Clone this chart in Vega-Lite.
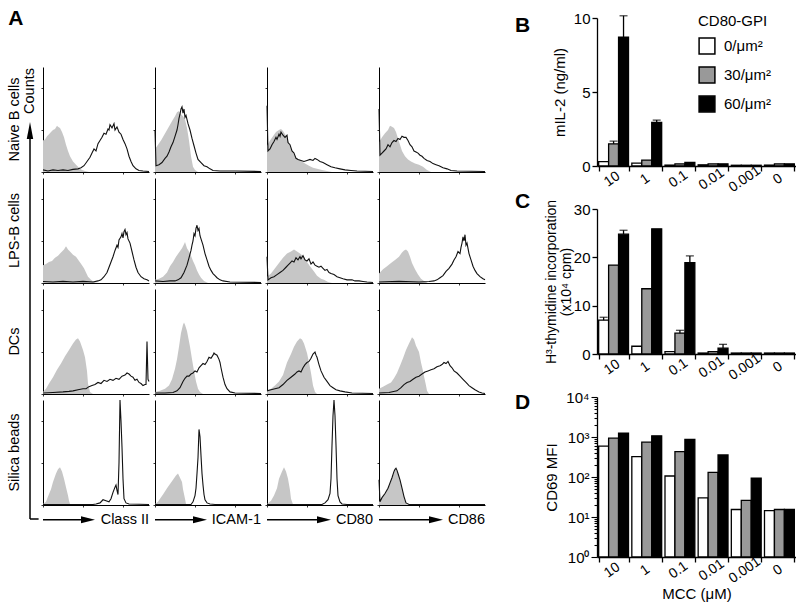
{
"$schema": "https://vega.github.io/schema/vega-lite/v6.json",
"background": "white",
"padding": {"left": 5, "top": 7, "right": 0, "bottom": 0},
"config": {
  "font": "Liberation Sans",
  "view": {"stroke": null},
  "axis": {"grid": false, "domainColor": "#000", "tickColor": "#000", "labelColor": "#000", "titleColor": "#000", "titleFontWeight": "normal", "labelFont": "Liberation Sans", "titleFont": "Liberation Sans"},
  "legend": {"labelFont": "Liberation Sans", "titleFont": "Liberation Sans", "labelColor": "#000", "titleColor": "#000"},
  "title": {"font": "Liberation Sans", "color": "#000"}
},
"datasets": {
  "rows": [{"r": "Naive B cells"}, {"r": "LPS-B cells"}, {"r": "DCs"}, {"r": "Silica beads"}],
  "cols": [{"c": "Class II"}, {"c": "ICAM-1"}, {"c": "CD80"}, {"c": "CD86"}],
  "il2": [
    {"d":"10","g":"0/μm²","v":0.3},{"d":"10","g":"30/μm²","v":1.5,"hi":1.68},{"d":"10","g":"60/μm²","v":8.7,"hi":10.15},
    {"d":"1","g":"0/μm²","v":0.2},{"d":"1","g":"30/μm²","v":0.4},{"d":"1","g":"60/μm²","v":2.95,"hi":3.1},
    {"d":"0.1","g":"0/μm²","v":0.06},{"d":"0.1","g":"30/μm²","v":0.15},{"d":"0.1","g":"60/μm²","v":0.25},
    {"d":"0.01","g":"0/μm²","v":0.08},{"d":"0.01","g":"30/μm²","v":0.15},{"d":"0.01","g":"60/μm²","v":0.15},
    {"d":"0.001","g":"0/μm²","v":0.05},{"d":"0.001","g":"30/μm²","v":0.05},{"d":"0.001","g":"60/μm²","v":0.05},
    {"d":"0","g":"0/μm²","v":0.06},{"d":"0","g":"30/μm²","v":0.15},{"d":"0","g":"60/μm²","v":0.15}
  ],
  "thy": [
    {"d":"10","g":"0/μm²","v":7.0,"hi":7.6},{"d":"10","g":"30/μm²","v":18.4},{"d":"10","g":"60/μm²","v":24.8,"hi":25.6},
    {"d":"1","g":"0/μm²","v":1.6},{"d":"1","g":"30/μm²","v":13.5},{"d":"1","g":"60/μm²","v":25.9},
    {"d":"0.1","g":"0/μm²","v":0.5},{"d":"0.1","g":"30/μm²","v":4.3,"hi":4.9},{"d":"0.1","g":"60/μm²","v":18.9,"hi":20.3},
    {"d":"0.01","g":"0/μm²","v":0.2},{"d":"0.01","g":"30/μm²","v":0.5},{"d":"0.01","g":"60/μm²","v":1.2,"hi":2.0},
    {"d":"0.001","g":"0/μm²","v":0.2},{"d":"0.001","g":"30/μm²","v":0.2},{"d":"0.001","g":"60/μm²","v":0.2},
    {"d":"0","g":"0/μm²","v":0.2},{"d":"0","g":"30/μm²","v":0.2},{"d":"0","g":"60/μm²","v":0.2}
  ],
  "cd69": [
    {"d":"10","g":"0/μm²","v":589},{"d":"10","g":"30/μm²","v":933},{"d":"10","g":"60/μm²","v":1250},
    {"d":"1","g":"0/μm²","v":324},{"d":"1","g":"30/μm²","v":741},{"d":"1","g":"60/μm²","v":1070},
    {"d":"0.1","g":"0/μm²","v":106},{"d":"0.1","g":"30/μm²","v":433},{"d":"0.1","g":"60/μm²","v":865},
    {"d":"0.01","g":"0/μm²","v":30},{"d":"0.01","g":"30/μm²","v":131},{"d":"0.01","g":"60/μm²","v":356},
    {"d":"0.001","g":"0/μm²","v":15.4},{"d":"0.001","g":"30/μm²","v":26},{"d":"0.001","g":"60/μm²","v":93},
    {"d":"0","g":"0/μm²","v":14.5},{"d":"0","g":"30/μm²","v":15.4},{"d":"0","g":"60/μm²","v":15.4}
  ],
  "hist": [
{"r":1,"c":1,"s":"g","x":0,"y":30},{"r":1,"c":1,"s":"g","x":2,"y":31},{"r":1,"c":1,"s":"g","x":4,"y":34},{"r":1,"c":1,"s":"g","x":6,"y":36},{"r":1,"c":1,"s":"g","x":8,"y":38},{"r":1,"c":1,"s":"g","x":10,"y":40},{"r":1,"c":1,"s":"g","x":12,"y":41},{"r":1,"c":1,"s":"g","x":14,"y":44},{"r":1,"c":1,"s":"g","x":15,"y":43},{"r":1,"c":1,"s":"g","x":17,"y":42},{"r":1,"c":1,"s":"g","x":19,"y":38},{"r":1,"c":1,"s":"g","x":21,"y":33},{"r":1,"c":1,"s":"g","x":23,"y":26},{"r":1,"c":1,"s":"g","x":25,"y":20},{"r":1,"c":1,"s":"g","x":27,"y":15},{"r":1,"c":1,"s":"g","x":30,"y":10},{"r":1,"c":1,"s":"g","x":33,"y":7},{"r":1,"c":1,"s":"g","x":36,"y":4},{"r":1,"c":1,"s":"g","x":39,"y":2},{"r":1,"c":1,"s":"g","x":42,"y":1},{"r":1,"c":1,"s":"g","x":46,"y":0},
{"r":1,"c":1,"s":"k","x":0,"y":2},{"r":1,"c":1,"s":"k","x":5,"y":1},{"r":1,"c":1,"s":"k","x":10,"y":2},{"r":1,"c":1,"s":"k","x":15,"y":1.5},{"r":1,"c":1,"s":"k","x":20,"y":2},{"r":1,"c":1,"s":"k","x":25,"y":1.5},{"r":1,"c":1,"s":"k","x":30,"y":2.5},{"r":1,"c":1,"s":"k","x":35,"y":3},{"r":1,"c":1,"s":"k","x":38,"y":4},{"r":1,"c":1,"s":"k","x":41,"y":6},{"r":1,"c":1,"s":"k","x":44,"y":10},{"r":1,"c":1,"s":"k","x":47,"y":14},{"r":1,"c":1,"s":"k","x":49,"y":18},{"r":1,"c":1,"s":"k","x":51,"y":22},{"r":1,"c":1,"s":"k","x":53,"y":20},{"r":1,"c":1,"s":"k","x":55,"y":27},{"r":1,"c":1,"s":"k","x":57,"y":30},{"r":1,"c":1,"s":"k","x":59,"y":33},{"r":1,"c":1,"s":"k","x":61,"y":37},{"r":1,"c":1,"s":"k","x":63,"y":36},{"r":1,"c":1,"s":"k","x":65,"y":41},{"r":1,"c":1,"s":"k","x":66,"y":40},{"r":1,"c":1,"s":"k","x":67,"y":45},{"r":1,"c":1,"s":"k","x":69,"y":42},{"r":1,"c":1,"s":"k","x":71,"y":46},{"r":1,"c":1,"s":"k","x":72,"y":40},{"r":1,"c":1,"s":"k","x":74,"y":43},{"r":1,"c":1,"s":"k","x":76,"y":38},{"r":1,"c":1,"s":"k","x":78,"y":36},{"r":1,"c":1,"s":"k","x":80,"y":31},{"r":1,"c":1,"s":"k","x":82,"y":27},{"r":1,"c":1,"s":"k","x":84,"y":22},{"r":1,"c":1,"s":"k","x":86,"y":15},{"r":1,"c":1,"s":"k","x":88,"y":10},{"r":1,"c":1,"s":"k","x":90,"y":6},{"r":1,"c":1,"s":"k","x":93,"y":3},{"r":1,"c":1,"s":"k","x":96,"y":1.5},{"r":1,"c":1,"s":"k","x":100,"y":1},{"r":1,"c":1,"s":"k","x":106,"y":0.5},
{"r":1,"c":2,"s":"g","x":0,"y":22},{"r":1,"c":2,"s":"g","x":3,"y":26},{"r":1,"c":2,"s":"g","x":6,"y":30},{"r":1,"c":2,"s":"g","x":9,"y":35},{"r":1,"c":2,"s":"g","x":12,"y":40},{"r":1,"c":2,"s":"g","x":15,"y":45},{"r":1,"c":2,"s":"g","x":18,"y":50},{"r":1,"c":2,"s":"g","x":20,"y":53},{"r":1,"c":2,"s":"g","x":22,"y":57},{"r":1,"c":2,"s":"g","x":24,"y":58},{"r":1,"c":2,"s":"g","x":26,"y":55},{"r":1,"c":2,"s":"g","x":28,"y":53},{"r":1,"c":2,"s":"g","x":30,"y":50},{"r":1,"c":2,"s":"g","x":32,"y":42},{"r":1,"c":2,"s":"g","x":34,"y":30},{"r":1,"c":2,"s":"g","x":36,"y":15},{"r":1,"c":2,"s":"g","x":38,"y":5},{"r":1,"c":2,"s":"g","x":40,"y":2},{"r":1,"c":2,"s":"g","x":43,"y":0},
{"r":1,"c":2,"s":"k","x":0,"y":40},{"r":1,"c":2,"s":"k","x":1,"y":6},{"r":1,"c":2,"s":"k","x":4,"y":7},{"r":1,"c":2,"s":"k","x":7,"y":9},{"r":1,"c":2,"s":"k","x":10,"y":13},{"r":1,"c":2,"s":"k","x":12,"y":15},{"r":1,"c":2,"s":"k","x":14,"y":19},{"r":1,"c":2,"s":"k","x":16,"y":24},{"r":1,"c":2,"s":"k","x":18,"y":28},{"r":1,"c":2,"s":"k","x":20,"y":34},{"r":1,"c":2,"s":"k","x":22,"y":40},{"r":1,"c":2,"s":"k","x":23,"y":45},{"r":1,"c":2,"s":"k","x":24,"y":51},{"r":1,"c":2,"s":"k","x":25,"y":55},{"r":1,"c":2,"s":"k","x":26,"y":60},{"r":1,"c":2,"s":"k","x":27,"y":62},{"r":1,"c":2,"s":"k","x":28,"y":56},{"r":1,"c":2,"s":"k","x":29,"y":60},{"r":1,"c":2,"s":"k","x":30,"y":52},{"r":1,"c":2,"s":"k","x":31,"y":54},{"r":1,"c":2,"s":"k","x":33,"y":46},{"r":1,"c":2,"s":"k","x":35,"y":40},{"r":1,"c":2,"s":"k","x":37,"y":32},{"r":1,"c":2,"s":"k","x":39,"y":25},{"r":1,"c":2,"s":"k","x":41,"y":18},{"r":1,"c":2,"s":"k","x":43,"y":12},{"r":1,"c":2,"s":"k","x":46,"y":9},{"r":1,"c":2,"s":"k","x":49,"y":6},{"r":1,"c":2,"s":"k","x":52,"y":5},{"r":1,"c":2,"s":"k","x":55,"y":3},{"r":1,"c":2,"s":"k","x":58,"y":1.5},{"r":1,"c":2,"s":"k","x":65,"y":1},{"r":1,"c":2,"s":"k","x":80,"y":1},{"r":1,"c":2,"s":"k","x":106,"y":0.5},
{"r":1,"c":3,"s":"g","x":0,"y":25},{"r":1,"c":3,"s":"g","x":3,"y":30},{"r":1,"c":3,"s":"g","x":6,"y":34},{"r":1,"c":3,"s":"g","x":9,"y":38},{"r":1,"c":3,"s":"g","x":12,"y":40},{"r":1,"c":3,"s":"g","x":14,"y":41},{"r":1,"c":3,"s":"g","x":16,"y":39},{"r":1,"c":3,"s":"g","x":18,"y":36},{"r":1,"c":3,"s":"g","x":20,"y":33},{"r":1,"c":3,"s":"g","x":23,"y":25},{"r":1,"c":3,"s":"g","x":26,"y":18},{"r":1,"c":3,"s":"g","x":29,"y":14},{"r":1,"c":3,"s":"g","x":32,"y":12},{"r":1,"c":3,"s":"g","x":35,"y":10},{"r":1,"c":3,"s":"g","x":38,"y":8},{"r":1,"c":3,"s":"g","x":42,"y":6},{"r":1,"c":3,"s":"g","x":46,"y":4},{"r":1,"c":3,"s":"g","x":50,"y":3},{"r":1,"c":3,"s":"g","x":55,"y":2},{"r":1,"c":3,"s":"g","x":60,"y":1},{"r":1,"c":3,"s":"g","x":65,"y":0},
{"r":1,"c":3,"s":"k","x":0,"y":63},{"r":1,"c":3,"s":"k","x":1,"y":20},{"r":1,"c":3,"s":"k","x":3,"y":22},{"r":1,"c":3,"s":"k","x":5,"y":26},{"r":1,"c":3,"s":"k","x":7,"y":29},{"r":1,"c":3,"s":"k","x":9,"y":33},{"r":1,"c":3,"s":"k","x":10,"y":31},{"r":1,"c":3,"s":"k","x":12,"y":36},{"r":1,"c":3,"s":"k","x":13,"y":34},{"r":1,"c":3,"s":"k","x":14,"y":38},{"r":1,"c":3,"s":"k","x":16,"y":35},{"r":1,"c":3,"s":"k","x":18,"y":33},{"r":1,"c":3,"s":"k","x":20,"y":35},{"r":1,"c":3,"s":"k","x":21,"y":28},{"r":1,"c":3,"s":"k","x":23,"y":26},{"r":1,"c":3,"s":"k","x":25,"y":20},{"r":1,"c":3,"s":"k","x":27,"y":18},{"r":1,"c":3,"s":"k","x":29,"y":13},{"r":1,"c":3,"s":"k","x":31,"y":12},{"r":1,"c":3,"s":"k","x":34,"y":11},{"r":1,"c":3,"s":"k","x":37,"y":10},{"r":1,"c":3,"s":"k","x":40,"y":11},{"r":1,"c":3,"s":"k","x":43,"y":12},{"r":1,"c":3,"s":"k","x":46,"y":11},{"r":1,"c":3,"s":"k","x":48,"y":13},{"r":1,"c":3,"s":"k","x":50,"y":12},{"r":1,"c":3,"s":"k","x":53,"y":10},{"r":1,"c":3,"s":"k","x":56,"y":9},{"r":1,"c":3,"s":"k","x":60,"y":7},{"r":1,"c":3,"s":"k","x":64,"y":5},{"r":1,"c":3,"s":"k","x":68,"y":4},{"r":1,"c":3,"s":"k","x":73,"y":3},{"r":1,"c":3,"s":"k","x":78,"y":2},{"r":1,"c":3,"s":"k","x":84,"y":1.5},{"r":1,"c":3,"s":"k","x":90,"y":1},{"r":1,"c":3,"s":"k","x":106,"y":0.5},
{"r":1,"c":4,"s":"g","x":0,"y":28},{"r":1,"c":4,"s":"g","x":3,"y":33},{"r":1,"c":4,"s":"g","x":6,"y":37},{"r":1,"c":4,"s":"g","x":9,"y":40},{"r":1,"c":4,"s":"g","x":11,"y":44},{"r":1,"c":4,"s":"g","x":13,"y":43},{"r":1,"c":4,"s":"g","x":15,"y":42},{"r":1,"c":4,"s":"g","x":17,"y":38},{"r":1,"c":4,"s":"g","x":19,"y":32},{"r":1,"c":4,"s":"g","x":21,"y":26},{"r":1,"c":4,"s":"g","x":23,"y":20},{"r":1,"c":4,"s":"g","x":26,"y":15},{"r":1,"c":4,"s":"g","x":29,"y":12},{"r":1,"c":4,"s":"g","x":32,"y":10},{"r":1,"c":4,"s":"g","x":36,"y":8},{"r":1,"c":4,"s":"g","x":40,"y":7},{"r":1,"c":4,"s":"g","x":44,"y":5},{"r":1,"c":4,"s":"g","x":48,"y":2},{"r":1,"c":4,"s":"g","x":52,"y":0},
{"r":1,"c":4,"s":"k","x":0,"y":60},{"r":1,"c":4,"s":"k","x":1,"y":16},{"r":1,"c":4,"s":"k","x":3,"y":18},{"r":1,"c":4,"s":"k","x":5,"y":20},{"r":1,"c":4,"s":"k","x":7,"y":22},{"r":1,"c":4,"s":"k","x":9,"y":26},{"r":1,"c":4,"s":"k","x":11,"y":24},{"r":1,"c":4,"s":"k","x":13,"y":28},{"r":1,"c":4,"s":"k","x":15,"y":30},{"r":1,"c":4,"s":"k","x":17,"y":29},{"r":1,"c":4,"s":"k","x":19,"y":32},{"r":1,"c":4,"s":"k","x":21,"y":31},{"r":1,"c":4,"s":"k","x":23,"y":34},{"r":1,"c":4,"s":"k","x":25,"y":33},{"r":1,"c":4,"s":"k","x":27,"y":33},{"r":1,"c":4,"s":"k","x":29,"y":30},{"r":1,"c":4,"s":"k","x":31,"y":26},{"r":1,"c":4,"s":"k","x":33,"y":24},{"r":1,"c":4,"s":"k","x":35,"y":20},{"r":1,"c":4,"s":"k","x":37,"y":19},{"r":1,"c":4,"s":"k","x":39,"y":18},{"r":1,"c":4,"s":"k","x":41,"y":16},{"r":1,"c":4,"s":"k","x":43,"y":15},{"r":1,"c":4,"s":"k","x":45,"y":13},{"r":1,"c":4,"s":"k","x":48,"y":11},{"r":1,"c":4,"s":"k","x":51,"y":10},{"r":1,"c":4,"s":"k","x":54,"y":8},{"r":1,"c":4,"s":"k","x":57,"y":7},{"r":1,"c":4,"s":"k","x":60,"y":6},{"r":1,"c":4,"s":"k","x":64,"y":4},{"r":1,"c":4,"s":"k","x":68,"y":3},{"r":1,"c":4,"s":"k","x":72,"y":1.5},{"r":1,"c":4,"s":"k","x":78,"y":1},{"r":1,"c":4,"s":"k","x":106,"y":0.5},
{"r":2,"c":1,"s":"g","x":0,"y":17},{"r":2,"c":1,"s":"g","x":3,"y":18},{"r":2,"c":1,"s":"g","x":6,"y":20},{"r":2,"c":1,"s":"g","x":9,"y":21},{"r":2,"c":1,"s":"g","x":12,"y":24},{"r":2,"c":1,"s":"g","x":15,"y":26},{"r":2,"c":1,"s":"g","x":18,"y":29},{"r":2,"c":1,"s":"g","x":21,"y":32},{"r":2,"c":1,"s":"g","x":23,"y":35},{"r":2,"c":1,"s":"g","x":25,"y":32},{"r":2,"c":1,"s":"g","x":27,"y":30},{"r":2,"c":1,"s":"g","x":30,"y":27},{"r":2,"c":1,"s":"g","x":33,"y":25},{"r":2,"c":1,"s":"g","x":36,"y":21},{"r":2,"c":1,"s":"g","x":39,"y":17},{"r":2,"c":1,"s":"g","x":41,"y":14},{"r":2,"c":1,"s":"g","x":43,"y":10},{"r":2,"c":1,"s":"g","x":45,"y":6},{"r":2,"c":1,"s":"g","x":48,"y":3},{"r":2,"c":1,"s":"g","x":51,"y":1},{"r":2,"c":1,"s":"g","x":55,"y":0},
{"r":2,"c":1,"s":"k","x":0,"y":1.5},{"r":2,"c":1,"s":"k","x":10,"y":1},{"r":2,"c":1,"s":"k","x":20,"y":1.5},{"r":2,"c":1,"s":"k","x":30,"y":1},{"r":2,"c":1,"s":"k","x":40,"y":1.5},{"r":2,"c":1,"s":"k","x":50,"y":1},{"r":2,"c":1,"s":"k","x":55,"y":2},{"r":2,"c":1,"s":"k","x":58,"y":3},{"r":2,"c":1,"s":"k","x":61,"y":6},{"r":2,"c":1,"s":"k","x":64,"y":10},{"r":2,"c":1,"s":"k","x":66,"y":15},{"r":2,"c":1,"s":"k","x":68,"y":20},{"r":2,"c":1,"s":"k","x":70,"y":25},{"r":2,"c":1,"s":"k","x":72,"y":31},{"r":2,"c":1,"s":"k","x":74,"y":36},{"r":2,"c":1,"s":"k","x":75,"y":34},{"r":2,"c":1,"s":"k","x":76,"y":41},{"r":2,"c":1,"s":"k","x":78,"y":44},{"r":2,"c":1,"s":"k","x":79,"y":47},{"r":2,"c":1,"s":"k","x":80,"y":43},{"r":2,"c":1,"s":"k","x":81,"y":49},{"r":2,"c":1,"s":"k","x":82,"y":51},{"r":2,"c":1,"s":"k","x":83,"y":46},{"r":2,"c":1,"s":"k","x":84,"y":48},{"r":2,"c":1,"s":"k","x":85,"y":42},{"r":2,"c":1,"s":"k","x":87,"y":38},{"r":2,"c":1,"s":"k","x":89,"y":30},{"r":2,"c":1,"s":"k","x":91,"y":22},{"r":2,"c":1,"s":"k","x":93,"y":15},{"r":2,"c":1,"s":"k","x":95,"y":10},{"r":2,"c":1,"s":"k","x":98,"y":6},{"r":2,"c":1,"s":"k","x":101,"y":4},{"r":2,"c":1,"s":"k","x":104,"y":3},{"r":2,"c":1,"s":"k","x":106,"y":2},
{"r":2,"c":2,"s":"g","x":0,"y":3},{"r":2,"c":2,"s":"g","x":4,"y":4},{"r":2,"c":2,"s":"g","x":8,"y":6},{"r":2,"c":2,"s":"g","x":12,"y":10},{"r":2,"c":2,"s":"g","x":15,"y":16},{"r":2,"c":2,"s":"g","x":18,"y":20},{"r":2,"c":2,"s":"g","x":21,"y":25},{"r":2,"c":2,"s":"g","x":24,"y":29},{"r":2,"c":2,"s":"g","x":27,"y":33},{"r":2,"c":2,"s":"g","x":29,"y":37},{"r":2,"c":2,"s":"g","x":30,"y":39},{"r":2,"c":2,"s":"g","x":32,"y":33},{"r":2,"c":2,"s":"g","x":34,"y":30},{"r":2,"c":2,"s":"g","x":36,"y":26},{"r":2,"c":2,"s":"g","x":38,"y":21},{"r":2,"c":2,"s":"g","x":40,"y":17},{"r":2,"c":2,"s":"g","x":42,"y":12},{"r":2,"c":2,"s":"g","x":44,"y":8},{"r":2,"c":2,"s":"g","x":46,"y":5},{"r":2,"c":2,"s":"g","x":49,"y":2},{"r":2,"c":2,"s":"g","x":53,"y":0},
{"r":2,"c":2,"s":"k","x":0,"y":2},{"r":2,"c":2,"s":"k","x":8,"y":1.5},{"r":2,"c":2,"s":"k","x":15,"y":2},{"r":2,"c":2,"s":"k","x":20,"y":2},{"r":2,"c":2,"s":"k","x":23,"y":3},{"r":2,"c":2,"s":"k","x":26,"y":5},{"r":2,"c":2,"s":"k","x":29,"y":10},{"r":2,"c":2,"s":"k","x":32,"y":17},{"r":2,"c":2,"s":"k","x":34,"y":24},{"r":2,"c":2,"s":"k","x":36,"y":31},{"r":2,"c":2,"s":"k","x":37,"y":36},{"r":2,"c":2,"s":"k","x":38,"y":40},{"r":2,"c":2,"s":"k","x":39,"y":47},{"r":2,"c":2,"s":"k","x":40,"y":45},{"r":2,"c":2,"s":"k","x":41,"y":52},{"r":2,"c":2,"s":"k","x":42,"y":55},{"r":2,"c":2,"s":"k","x":43,"y":50},{"r":2,"c":2,"s":"k","x":44,"y":52},{"r":2,"c":2,"s":"k","x":45,"y":45},{"r":2,"c":2,"s":"k","x":46,"y":42},{"r":2,"c":2,"s":"k","x":48,"y":36},{"r":2,"c":2,"s":"k","x":50,"y":28},{"r":2,"c":2,"s":"k","x":52,"y":22},{"r":2,"c":2,"s":"k","x":54,"y":16},{"r":2,"c":2,"s":"k","x":56,"y":12},{"r":2,"c":2,"s":"k","x":58,"y":9},{"r":2,"c":2,"s":"k","x":60,"y":7},{"r":2,"c":2,"s":"k","x":62,"y":5},{"r":2,"c":2,"s":"k","x":65,"y":3},{"r":2,"c":2,"s":"k","x":68,"y":2},{"r":2,"c":2,"s":"k","x":75,"y":1},{"r":2,"c":2,"s":"k","x":106,"y":0.5},
{"r":2,"c":3,"s":"g","x":0,"y":6},{"r":2,"c":3,"s":"g","x":4,"y":9},{"r":2,"c":3,"s":"g","x":8,"y":14},{"r":2,"c":3,"s":"g","x":12,"y":19},{"r":2,"c":3,"s":"g","x":16,"y":24},{"r":2,"c":3,"s":"g","x":20,"y":28},{"r":2,"c":3,"s":"g","x":24,"y":30},{"r":2,"c":3,"s":"g","x":27,"y":32},{"r":2,"c":3,"s":"g","x":30,"y":30},{"r":2,"c":3,"s":"g","x":33,"y":28},{"r":2,"c":3,"s":"g","x":37,"y":25},{"r":2,"c":3,"s":"g","x":40,"y":20},{"r":2,"c":3,"s":"g","x":43,"y":16},{"r":2,"c":3,"s":"g","x":47,"y":11},{"r":2,"c":3,"s":"g","x":50,"y":7},{"r":2,"c":3,"s":"g","x":54,"y":4},{"r":2,"c":3,"s":"g","x":57,"y":3},{"r":2,"c":3,"s":"g","x":61,"y":1},{"r":2,"c":3,"s":"g","x":65,"y":0},
{"r":2,"c":3,"s":"k","x":0,"y":25},{"r":2,"c":3,"s":"k","x":1,"y":3},{"r":2,"c":3,"s":"k","x":4,"y":5},{"r":2,"c":3,"s":"k","x":7,"y":6},{"r":2,"c":3,"s":"k","x":10,"y":8},{"r":2,"c":3,"s":"k","x":13,"y":10},{"r":2,"c":3,"s":"k","x":16,"y":12},{"r":2,"c":3,"s":"k","x":19,"y":15},{"r":2,"c":3,"s":"k","x":21,"y":17},{"r":2,"c":3,"s":"k","x":23,"y":19},{"r":2,"c":3,"s":"k","x":25,"y":21},{"r":2,"c":3,"s":"k","x":27,"y":20},{"r":2,"c":3,"s":"k","x":29,"y":24},{"r":2,"c":3,"s":"k","x":31,"y":22},{"r":2,"c":3,"s":"k","x":33,"y":25},{"r":2,"c":3,"s":"k","x":34,"y":23},{"r":2,"c":3,"s":"k","x":36,"y":26},{"r":2,"c":3,"s":"k","x":38,"y":22},{"r":2,"c":3,"s":"k","x":40,"y":21},{"r":2,"c":3,"s":"k","x":42,"y":23},{"r":2,"c":3,"s":"k","x":44,"y":18},{"r":2,"c":3,"s":"k","x":46,"y":20},{"r":2,"c":3,"s":"k","x":48,"y":17},{"r":2,"c":3,"s":"k","x":50,"y":16},{"r":2,"c":3,"s":"k","x":52,"y":15},{"r":2,"c":3,"s":"k","x":54,"y":16},{"r":2,"c":3,"s":"k","x":56,"y":14},{"r":2,"c":3,"s":"k","x":58,"y":12},{"r":2,"c":3,"s":"k","x":60,"y":13},{"r":2,"c":3,"s":"k","x":62,"y":10},{"r":2,"c":3,"s":"k","x":64,"y":9},{"r":2,"c":3,"s":"k","x":67,"y":8},{"r":2,"c":3,"s":"k","x":70,"y":6},{"r":2,"c":3,"s":"k","x":73,"y":5},{"r":2,"c":3,"s":"k","x":76,"y":4},{"r":2,"c":3,"s":"k","x":80,"y":3},{"r":2,"c":3,"s":"k","x":85,"y":3},{"r":2,"c":3,"s":"k","x":88,"y":2},{"r":2,"c":3,"s":"k","x":92,"y":2},{"r":2,"c":3,"s":"k","x":96,"y":1.5},{"r":2,"c":3,"s":"k","x":100,"y":1},{"r":2,"c":3,"s":"k","x":106,"y":0.5},
{"r":2,"c":4,"s":"g","x":0,"y":9},{"r":2,"c":4,"s":"g","x":4,"y":13},{"r":2,"c":4,"s":"g","x":8,"y":16},{"r":2,"c":4,"s":"g","x":12,"y":19},{"r":2,"c":4,"s":"g","x":16,"y":22},{"r":2,"c":4,"s":"g","x":20,"y":25},{"r":2,"c":4,"s":"g","x":23,"y":29},{"r":2,"c":4,"s":"g","x":25,"y":31},{"r":2,"c":4,"s":"g","x":27,"y":32},{"r":2,"c":4,"s":"g","x":29,"y":30},{"r":2,"c":4,"s":"g","x":31,"y":25},{"r":2,"c":4,"s":"g","x":33,"y":19},{"r":2,"c":4,"s":"g","x":36,"y":13},{"r":2,"c":4,"s":"g","x":39,"y":8},{"r":2,"c":4,"s":"g","x":42,"y":4},{"r":2,"c":4,"s":"g","x":45,"y":2},{"r":2,"c":4,"s":"g","x":48,"y":0.5},
{"r":2,"c":4,"s":"k","x":0,"y":1},{"r":2,"c":4,"s":"k","x":20,"y":1.5},{"r":2,"c":4,"s":"k","x":40,"y":1},{"r":2,"c":4,"s":"k","x":50,"y":1.5},{"r":2,"c":4,"s":"k","x":55,"y":2},{"r":2,"c":4,"s":"k","x":58,"y":3},{"r":2,"c":4,"s":"k","x":61,"y":5},{"r":2,"c":4,"s":"k","x":64,"y":7},{"r":2,"c":4,"s":"k","x":67,"y":11},{"r":2,"c":4,"s":"k","x":70,"y":14},{"r":2,"c":4,"s":"k","x":73,"y":18},{"r":2,"c":4,"s":"k","x":75,"y":22},{"r":2,"c":4,"s":"k","x":77,"y":25},{"r":2,"c":4,"s":"k","x":79,"y":30},{"r":2,"c":4,"s":"k","x":81,"y":28},{"r":2,"c":4,"s":"k","x":82,"y":34},{"r":2,"c":4,"s":"k","x":83,"y":38},{"r":2,"c":4,"s":"k","x":84,"y":44},{"r":2,"c":4,"s":"k","x":85,"y":40},{"r":2,"c":4,"s":"k","x":86,"y":46},{"r":2,"c":4,"s":"k","x":87,"y":36},{"r":2,"c":4,"s":"k","x":88,"y":38},{"r":2,"c":4,"s":"k","x":90,"y":28},{"r":2,"c":4,"s":"k","x":92,"y":22},{"r":2,"c":4,"s":"k","x":94,"y":16},{"r":2,"c":4,"s":"k","x":96,"y":12},{"r":2,"c":4,"s":"k","x":98,"y":9},{"r":2,"c":4,"s":"k","x":101,"y":6},{"r":2,"c":4,"s":"k","x":104,"y":4},{"r":2,"c":4,"s":"k","x":106,"y":3},
{"r":3,"c":1,"s":"g","x":0,"y":2},{"r":3,"c":1,"s":"g","x":3,"y":5},{"r":3,"c":1,"s":"g","x":6,"y":10},{"r":3,"c":1,"s":"g","x":10,"y":16},{"r":3,"c":1,"s":"g","x":14,"y":23},{"r":3,"c":1,"s":"g","x":18,"y":29},{"r":3,"c":1,"s":"g","x":22,"y":36},{"r":3,"c":1,"s":"g","x":26,"y":42},{"r":3,"c":1,"s":"g","x":30,"y":48},{"r":3,"c":1,"s":"g","x":33,"y":52},{"r":3,"c":1,"s":"g","x":35,"y":53},{"r":3,"c":1,"s":"g","x":37,"y":50},{"r":3,"c":1,"s":"g","x":40,"y":42},{"r":3,"c":1,"s":"g","x":42,"y":35},{"r":3,"c":1,"s":"g","x":44,"y":22},{"r":3,"c":1,"s":"g","x":45,"y":10},{"r":3,"c":1,"s":"g","x":47,"y":2},{"r":3,"c":1,"s":"g","x":50,"y":0},
{"r":3,"c":1,"s":"k","x":0,"y":1},{"r":3,"c":1,"s":"k","x":10,"y":1.5},{"r":3,"c":1,"s":"k","x":20,"y":2},{"r":3,"c":1,"s":"k","x":26,"y":2.5},{"r":3,"c":1,"s":"k","x":30,"y":3},{"r":3,"c":1,"s":"k","x":35,"y":4},{"r":3,"c":1,"s":"k","x":40,"y":5},{"r":3,"c":1,"s":"k","x":43,"y":5},{"r":3,"c":1,"s":"k","x":46,"y":7},{"r":3,"c":1,"s":"k","x":49,"y":8},{"r":3,"c":1,"s":"k","x":52,"y":9},{"r":3,"c":1,"s":"k","x":55,"y":11},{"r":3,"c":1,"s":"k","x":58,"y":10},{"r":3,"c":1,"s":"k","x":61,"y":13},{"r":3,"c":1,"s":"k","x":64,"y":12},{"r":3,"c":1,"s":"k","x":67,"y":14},{"r":3,"c":1,"s":"k","x":70,"y":13},{"r":3,"c":1,"s":"k","x":73,"y":15},{"r":3,"c":1,"s":"k","x":76,"y":14},{"r":3,"c":1,"s":"k","x":79,"y":17},{"r":3,"c":1,"s":"k","x":82,"y":18},{"r":3,"c":1,"s":"k","x":84,"y":20},{"r":3,"c":1,"s":"k","x":86,"y":19},{"r":3,"c":1,"s":"k","x":88,"y":17},{"r":3,"c":1,"s":"k","x":90,"y":16},{"r":3,"c":1,"s":"k","x":92,"y":13},{"r":3,"c":1,"s":"k","x":94,"y":14},{"r":3,"c":1,"s":"k","x":96,"y":11},{"r":3,"c":1,"s":"k","x":98,"y":10},{"r":3,"c":1,"s":"k","x":100,"y":8},{"r":3,"c":1,"s":"k","x":102,"y":9},{"r":3,"c":1,"s":"k","x":103,"y":9},{"r":3,"c":1,"s":"k","x":104,"y":50},{"r":3,"c":1,"s":"k","x":105,"y":14},{"r":3,"c":1,"s":"k","x":106,"y":12},
{"r":3,"c":2,"s":"g","x":0,"y":2},{"r":3,"c":2,"s":"g","x":5,"y":3},{"r":3,"c":2,"s":"g","x":10,"y":5},{"r":3,"c":2,"s":"g","x":14,"y":8},{"r":3,"c":2,"s":"g","x":17,"y":14},{"r":3,"c":2,"s":"g","x":20,"y":24},{"r":3,"c":2,"s":"g","x":22,"y":33},{"r":3,"c":2,"s":"g","x":24,"y":45},{"r":3,"c":2,"s":"g","x":26,"y":58},{"r":3,"c":2,"s":"g","x":28,"y":66},{"r":3,"c":2,"s":"g","x":29,"y":68},{"r":3,"c":2,"s":"g","x":30,"y":66},{"r":3,"c":2,"s":"g","x":32,"y":60},{"r":3,"c":2,"s":"g","x":34,"y":50},{"r":3,"c":2,"s":"g","x":35,"y":45},{"r":3,"c":2,"s":"g","x":37,"y":33},{"r":3,"c":2,"s":"g","x":39,"y":22},{"r":3,"c":2,"s":"g","x":41,"y":12},{"r":3,"c":2,"s":"g","x":43,"y":5},{"r":3,"c":2,"s":"g","x":45,"y":2},{"r":3,"c":2,"s":"g","x":48,"y":0},
{"r":3,"c":2,"s":"k","x":0,"y":1},{"r":3,"c":2,"s":"k","x":10,"y":1},{"r":3,"c":2,"s":"k","x":18,"y":1.5},{"r":3,"c":2,"s":"k","x":22,"y":3},{"r":3,"c":2,"s":"k","x":25,"y":6},{"r":3,"c":2,"s":"k","x":28,"y":12},{"r":3,"c":2,"s":"k","x":30,"y":15},{"r":3,"c":2,"s":"k","x":32,"y":17},{"r":3,"c":2,"s":"k","x":34,"y":17},{"r":3,"c":2,"s":"k","x":36,"y":19},{"r":3,"c":2,"s":"k","x":38,"y":20},{"r":3,"c":2,"s":"k","x":40,"y":22},{"r":3,"c":2,"s":"k","x":42,"y":21},{"r":3,"c":2,"s":"k","x":44,"y":25},{"r":3,"c":2,"s":"k","x":46,"y":27},{"r":3,"c":2,"s":"k","x":48,"y":29},{"r":3,"c":2,"s":"k","x":50,"y":28},{"r":3,"c":2,"s":"k","x":52,"y":31},{"r":3,"c":2,"s":"k","x":54,"y":35},{"r":3,"c":2,"s":"k","x":56,"y":34},{"r":3,"c":2,"s":"k","x":58,"y":37},{"r":3,"c":2,"s":"k","x":59,"y":39},{"r":3,"c":2,"s":"k","x":60,"y":38},{"r":3,"c":2,"s":"k","x":62,"y":37},{"r":3,"c":2,"s":"k","x":64,"y":33},{"r":3,"c":2,"s":"k","x":65,"y":30},{"r":3,"c":2,"s":"k","x":66,"y":25},{"r":3,"c":2,"s":"k","x":68,"y":16},{"r":3,"c":2,"s":"k","x":70,"y":9},{"r":3,"c":2,"s":"k","x":72,"y":5},{"r":3,"c":2,"s":"k","x":75,"y":2},{"r":3,"c":2,"s":"k","x":80,"y":1},{"r":3,"c":2,"s":"k","x":106,"y":0.5},
{"r":3,"c":3,"s":"g","x":0,"y":3},{"r":3,"c":3,"s":"g","x":4,"y":5},{"r":3,"c":3,"s":"g","x":8,"y":8},{"r":3,"c":3,"s":"g","x":12,"y":12},{"r":3,"c":3,"s":"g","x":16,"y":18},{"r":3,"c":3,"s":"g","x":20,"y":30},{"r":3,"c":3,"s":"g","x":24,"y":38},{"r":3,"c":3,"s":"g","x":27,"y":45},{"r":3,"c":3,"s":"g","x":30,"y":50},{"r":3,"c":3,"s":"g","x":33,"y":53},{"r":3,"c":3,"s":"g","x":35,"y":52},{"r":3,"c":3,"s":"g","x":37,"y":48},{"r":3,"c":3,"s":"g","x":40,"y":39},{"r":3,"c":3,"s":"g","x":42,"y":30},{"r":3,"c":3,"s":"g","x":44,"y":20},{"r":3,"c":3,"s":"g","x":46,"y":8},{"r":3,"c":3,"s":"g","x":48,"y":2},{"r":3,"c":3,"s":"g","x":50,"y":0},
{"r":3,"c":3,"s":"k","x":0,"y":3},{"r":3,"c":3,"s":"k","x":4,"y":4},{"r":3,"c":3,"s":"k","x":8,"y":5},{"r":3,"c":3,"s":"k","x":12,"y":6},{"r":3,"c":3,"s":"k","x":16,"y":9},{"r":3,"c":3,"s":"k","x":20,"y":13},{"r":3,"c":3,"s":"k","x":24,"y":16},{"r":3,"c":3,"s":"k","x":28,"y":19},{"r":3,"c":3,"s":"k","x":30,"y":21},{"r":3,"c":3,"s":"k","x":32,"y":22},{"r":3,"c":3,"s":"k","x":34,"y":21},{"r":3,"c":3,"s":"k","x":36,"y":25},{"r":3,"c":3,"s":"k","x":38,"y":28},{"r":3,"c":3,"s":"k","x":40,"y":30},{"r":3,"c":3,"s":"k","x":42,"y":31},{"r":3,"c":3,"s":"k","x":44,"y":34},{"r":3,"c":3,"s":"k","x":46,"y":38},{"r":3,"c":3,"s":"k","x":48,"y":40},{"r":3,"c":3,"s":"k","x":49,"y":37},{"r":3,"c":3,"s":"k","x":50,"y":35},{"r":3,"c":3,"s":"k","x":52,"y":28},{"r":3,"c":3,"s":"k","x":54,"y":22},{"r":3,"c":3,"s":"k","x":57,"y":16},{"r":3,"c":3,"s":"k","x":60,"y":12},{"r":3,"c":3,"s":"k","x":63,"y":8},{"r":3,"c":3,"s":"k","x":66,"y":6},{"r":3,"c":3,"s":"k","x":69,"y":4},{"r":3,"c":3,"s":"k","x":73,"y":3},{"r":3,"c":3,"s":"k","x":78,"y":2},{"r":3,"c":3,"s":"k","x":85,"y":1},{"r":3,"c":3,"s":"k","x":106,"y":0.5},
{"r":3,"c":4,"s":"g","x":0,"y":5},{"r":3,"c":4,"s":"g","x":4,"y":7},{"r":3,"c":4,"s":"g","x":8,"y":9},{"r":3,"c":4,"s":"g","x":12,"y":11},{"r":3,"c":4,"s":"g","x":15,"y":15},{"r":3,"c":4,"s":"g","x":18,"y":20},{"r":3,"c":4,"s":"g","x":21,"y":27},{"r":3,"c":4,"s":"g","x":24,"y":34},{"r":3,"c":4,"s":"g","x":27,"y":42},{"r":3,"c":4,"s":"g","x":30,"y":48},{"r":3,"c":4,"s":"g","x":32,"y":52},{"r":3,"c":4,"s":"g","x":33,"y":54},{"r":3,"c":4,"s":"g","x":35,"y":52},{"r":3,"c":4,"s":"g","x":37,"y":46},{"r":3,"c":4,"s":"g","x":40,"y":40},{"r":3,"c":4,"s":"g","x":42,"y":30},{"r":3,"c":4,"s":"g","x":44,"y":22},{"r":3,"c":4,"s":"g","x":45,"y":17},{"r":3,"c":4,"s":"g","x":47,"y":8},{"r":3,"c":4,"s":"g","x":48,"y":3},{"r":3,"c":4,"s":"g","x":50,"y":0},
{"r":3,"c":4,"s":"k","x":0,"y":1},{"r":3,"c":4,"s":"k","x":10,"y":1.5},{"r":3,"c":4,"s":"k","x":18,"y":3},{"r":3,"c":4,"s":"k","x":22,"y":6},{"r":3,"c":4,"s":"k","x":25,"y":9},{"r":3,"c":4,"s":"k","x":28,"y":11},{"r":3,"c":4,"s":"k","x":31,"y":12},{"r":3,"c":4,"s":"k","x":34,"y":14},{"r":3,"c":4,"s":"k","x":37,"y":16},{"r":3,"c":4,"s":"k","x":40,"y":17},{"r":3,"c":4,"s":"k","x":43,"y":19},{"r":3,"c":4,"s":"k","x":46,"y":21},{"r":3,"c":4,"s":"k","x":49,"y":22},{"r":3,"c":4,"s":"k","x":52,"y":23},{"r":3,"c":4,"s":"k","x":55,"y":24},{"r":3,"c":4,"s":"k","x":58,"y":26},{"r":3,"c":4,"s":"k","x":61,"y":27},{"r":3,"c":4,"s":"k","x":63,"y":28},{"r":3,"c":4,"s":"k","x":65,"y":30},{"r":3,"c":4,"s":"k","x":67,"y":29},{"r":3,"c":4,"s":"k","x":69,"y":31},{"r":3,"c":4,"s":"k","x":71,"y":27},{"r":3,"c":4,"s":"k","x":73,"y":25},{"r":3,"c":4,"s":"k","x":75,"y":22},{"r":3,"c":4,"s":"k","x":78,"y":20},{"r":3,"c":4,"s":"k","x":81,"y":17},{"r":3,"c":4,"s":"k","x":84,"y":14},{"r":3,"c":4,"s":"k","x":87,"y":11},{"r":3,"c":4,"s":"k","x":90,"y":8},{"r":3,"c":4,"s":"k","x":93,"y":6},{"r":3,"c":4,"s":"k","x":96,"y":4},{"r":3,"c":4,"s":"k","x":100,"y":2},{"r":3,"c":4,"s":"k","x":103,"y":1},{"r":3,"c":4,"s":"k","x":106,"y":0.5},
{"r":4,"c":1,"s":"g","x":0,"y":1},{"r":4,"c":1,"s":"g","x":3,"y":3},{"r":4,"c":1,"s":"g","x":5,"y":8},{"r":4,"c":1,"s":"g","x":8,"y":15},{"r":4,"c":1,"s":"g","x":10,"y":22},{"r":4,"c":1,"s":"g","x":13,"y":30},{"r":4,"c":1,"s":"g","x":15,"y":34},{"r":4,"c":1,"s":"g","x":17,"y":36},{"r":4,"c":1,"s":"g","x":19,"y":32},{"r":4,"c":1,"s":"g","x":21,"y":25},{"r":4,"c":1,"s":"g","x":23,"y":17},{"r":4,"c":1,"s":"g","x":25,"y":9},{"r":4,"c":1,"s":"g","x":26,"y":4},{"r":4,"c":1,"s":"g","x":27,"y":1},{"r":4,"c":1,"s":"g","x":29,"y":0},
{"r":4,"c":1,"s":"k","x":0,"y":0.5},{"r":4,"c":1,"s":"k","x":50,"y":0.5},{"r":4,"c":1,"s":"k","x":53,"y":1},{"r":4,"c":1,"s":"k","x":57,"y":2},{"r":4,"c":1,"s":"k","x":60,"y":5},{"r":4,"c":1,"s":"k","x":63,"y":4},{"r":4,"c":1,"s":"k","x":66,"y":3},{"r":4,"c":1,"s":"k","x":68,"y":6},{"r":4,"c":1,"s":"k","x":70,"y":12},{"r":4,"c":1,"s":"k","x":72,"y":17},{"r":4,"c":1,"s":"k","x":73,"y":19},{"r":4,"c":1,"s":"k","x":74,"y":14},{"r":4,"c":1,"s":"k","x":75,"y":10},{"r":4,"c":1,"s":"k","x":76,"y":40},{"r":4,"c":1,"s":"k","x":77,"y":100},{"r":4,"c":1,"s":"k","x":78,"y":80},{"r":4,"c":1,"s":"k","x":79,"y":55},{"r":4,"c":1,"s":"k","x":80,"y":25},{"r":4,"c":1,"s":"k","x":81,"y":6},{"r":4,"c":1,"s":"k","x":83,"y":2},{"r":4,"c":1,"s":"k","x":86,"y":1},{"r":4,"c":1,"s":"k","x":106,"y":0.5},
{"r":4,"c":2,"s":"g","x":0,"y":1},{"r":4,"c":2,"s":"g","x":3,"y":3},{"r":4,"c":2,"s":"g","x":5,"y":6},{"r":4,"c":2,"s":"g","x":8,"y":10},{"r":4,"c":2,"s":"g","x":12,"y":16},{"r":4,"c":2,"s":"g","x":15,"y":20},{"r":4,"c":2,"s":"g","x":18,"y":24},{"r":4,"c":2,"s":"g","x":21,"y":28},{"r":4,"c":2,"s":"g","x":23,"y":30},{"r":4,"c":2,"s":"g","x":25,"y":26},{"r":4,"c":2,"s":"g","x":27,"y":22},{"r":4,"c":2,"s":"g","x":28,"y":15},{"r":4,"c":2,"s":"g","x":30,"y":6},{"r":4,"c":2,"s":"g","x":31,"y":1},{"r":4,"c":2,"s":"g","x":33,"y":0},
{"r":4,"c":2,"s":"k","x":0,"y":0.5},{"r":4,"c":2,"s":"k","x":36,"y":0.5},{"r":4,"c":2,"s":"k","x":38,"y":3},{"r":4,"c":2,"s":"k","x":40,"y":9},{"r":4,"c":2,"s":"k","x":41,"y":16},{"r":4,"c":2,"s":"k","x":42,"y":30},{"r":4,"c":2,"s":"k","x":43,"y":45},{"r":4,"c":2,"s":"k","x":44,"y":72},{"r":4,"c":2,"s":"k","x":45,"y":65},{"r":4,"c":2,"s":"k","x":46,"y":47},{"r":4,"c":2,"s":"k","x":47,"y":30},{"r":4,"c":2,"s":"k","x":48,"y":19},{"r":4,"c":2,"s":"k","x":49,"y":10},{"r":4,"c":2,"s":"k","x":50,"y":5},{"r":4,"c":2,"s":"k","x":52,"y":2},{"r":4,"c":2,"s":"k","x":55,"y":1},{"r":4,"c":2,"s":"k","x":60,"y":0.5},{"r":4,"c":2,"s":"k","x":106,"y":0.5},
{"r":4,"c":3,"s":"g","x":0,"y":1},{"r":4,"c":3,"s":"g","x":4,"y":4},{"r":4,"c":3,"s":"g","x":7,"y":9},{"r":4,"c":3,"s":"g","x":10,"y":16},{"r":4,"c":3,"s":"g","x":12,"y":25},{"r":4,"c":3,"s":"g","x":15,"y":32},{"r":4,"c":3,"s":"g","x":17,"y":36},{"r":4,"c":3,"s":"g","x":19,"y":32},{"r":4,"c":3,"s":"g","x":21,"y":25},{"r":4,"c":3,"s":"g","x":23,"y":14},{"r":4,"c":3,"s":"g","x":24,"y":6},{"r":4,"c":3,"s":"g","x":26,"y":0.5},
{"r":4,"c":3,"s":"k","x":0,"y":0.5},{"r":4,"c":3,"s":"k","x":55,"y":0.5},{"r":4,"c":3,"s":"k","x":58,"y":2},{"r":4,"c":3,"s":"k","x":61,"y":5},{"r":4,"c":3,"s":"k","x":63,"y":11},{"r":4,"c":3,"s":"k","x":64,"y":25},{"r":4,"c":3,"s":"k","x":65,"y":57},{"r":4,"c":3,"s":"k","x":66,"y":85},{"r":4,"c":3,"s":"k","x":67,"y":100},{"r":4,"c":3,"s":"k","x":68,"y":85},{"r":4,"c":3,"s":"k","x":69,"y":57},{"r":4,"c":3,"s":"k","x":70,"y":25},{"r":4,"c":3,"s":"k","x":71,"y":9},{"r":4,"c":3,"s":"k","x":73,"y":3},{"r":4,"c":3,"s":"k","x":75,"y":1},{"r":4,"c":3,"s":"k","x":80,"y":0.5},{"r":4,"c":3,"s":"k","x":106,"y":0.5},
{"r":4,"c":4,"s":"g","x":0,"y":3},{"r":4,"c":4,"s":"g","x":3,"y":7},{"r":4,"c":4,"s":"g","x":6,"y":11},{"r":4,"c":4,"s":"g","x":9,"y":16},{"r":4,"c":4,"s":"g","x":11,"y":20},{"r":4,"c":4,"s":"g","x":13,"y":26},{"r":4,"c":4,"s":"g","x":15,"y":31},{"r":4,"c":4,"s":"g","x":16,"y":34},{"r":4,"c":4,"s":"g","x":17,"y":34},{"r":4,"c":4,"s":"g","x":19,"y":30},{"r":4,"c":4,"s":"g","x":21,"y":24},{"r":4,"c":4,"s":"g","x":23,"y":16},{"r":4,"c":4,"s":"g","x":25,"y":8},{"r":4,"c":4,"s":"g","x":27,"y":1},{"r":4,"c":4,"s":"g","x":29,"y":0},
{"r":4,"c":4,"s":"k","x":0,"y":24},{"r":4,"c":4,"s":"k","x":1,"y":3},{"r":4,"c":4,"s":"k","x":3,"y":7},{"r":4,"c":4,"s":"k","x":6,"y":11},{"r":4,"c":4,"s":"k","x":9,"y":16},{"r":4,"c":4,"s":"k","x":11,"y":21},{"r":4,"c":4,"s":"k","x":13,"y":26},{"r":4,"c":4,"s":"k","x":15,"y":32},{"r":4,"c":4,"s":"k","x":16,"y":34},{"r":4,"c":4,"s":"k","x":17,"y":35},{"r":4,"c":4,"s":"k","x":18,"y":33},{"r":4,"c":4,"s":"k","x":19,"y":30},{"r":4,"c":4,"s":"k","x":21,"y":24},{"r":4,"c":4,"s":"k","x":23,"y":16},{"r":4,"c":4,"s":"k","x":25,"y":8},{"r":4,"c":4,"s":"k","x":27,"y":2},{"r":4,"c":4,"s":"k","x":30,"y":0.5},{"r":4,"c":4,"s":"k","x":106,"y":0.5}
  ]
},
"align": "each",
"spacing": 27,
"hconcat": [
  {
    "align": "each",
    "spacing": 38,
    "vconcat": [
      {"width": 1, "height": 1, "data": {"values": [{}]}, "mark": {"type": "text", "text": "A", "fontSize": 21, "fontWeight": "bold", "align": "right", "baseline": "middle", "dx": -7, "color": "#000"}, "encoding": {}},
      {
        "align": "each",
        "spacing": 0,
        "hconcat": [
          {
            "width": 8.6, "height": 452,
            "layer": [
              {"data": {"name": "rows"}, "mark": {"type": "point", "size": 0, "opacity": 0}, "encoding": {"y": {"field": "r", "type": "nominal", "sort": null, "scale": {"type": "band", "paddingInner": 0.054, "paddingOuter": 0.063, "align": 0}, "axis": {"title": null, "domain": false, "ticks": false, "tickSize": 0, "labelAngle": 270, "labelAlign": "center", "labelBaseline": "bottom", "labelPadding": 9, "labelFontSize": 14.5, "labelFlush": false, "labelOverlap": false}}}},
              {"data": {"values": [{}]}, "mark": {"type": "rule", "color": "#000", "strokeWidth": 1.5}, "encoding": {"x": {"datum": 0, "type": "quantitative", "scale": {"domain": [0, 1]}, "axis": null}, "y": {"datum": 0, "type": "quantitative", "scale": {"domain": [0, 1]}, "axis": null}, "y2": {"datum": 0.86}}},
              {"data": {"values": [{}]}, "mark": {"type": "rule", "color": "#000", "strokeWidth": 1.5}, "encoding": {"x": {"datum": 0, "type": "quantitative", "scale": {"domain": [0, 1]}, "axis": null}, "x2": {"datum": 1}, "y": {"datum": 0, "type": "quantitative", "scale": {"domain": [0, 1]}, "axis": null}}},
              {"data": {"values": [{}]}, "mark": {"type": "point", "shape": "M0,-1L0.38,1L-0.38,1Z", "size": 289, "filled": true, "color": "#000", "opacity": 1}, "encoding": {"x": {"datum": 0, "type": "quantitative", "scale": {"domain": [0, 1]}, "axis": null}, "y": {"datum": 0.8595, "type": "quantitative", "scale": {"domain": [0, 1]}, "axis": null}}},
              {"data": {"values": [{}]}, "mark": {"type": "text", "text": "Counts", "angle": 270, "align": "center", "baseline": "middle", "fontSize": 14.5, "color": "#000"}, "encoding": {"x": {"datum": 0, "type": "quantitative", "scale": {"domain": [0, 1]}, "axis": null}, "y": {"datum": 0.947, "type": "quantitative", "scale": {"domain": [0, 1]}, "axis": null}}}
            ],
            "resolve": {"scale": {"y": "independent"}, "axis": {"y": "independent"}}
          },
          {
            "align": "each",
            "spacing": 3,
            "vconcat": [
              {
                "data": {"name": "hist"},
                "bounds": "flush",
                "spacing": {"row": 6, "column": 6},
                "facet": {"row": {"field": "r", "type": "ordinal", "header": null}, "column": {"field": "c", "type": "ordinal", "header": null}},
                "resolve": {"axis": {"x": "independent", "y": "independent"}},
                "spec": {
                  "width": 106, "height": 105,
                  "layer": [
                    {"transform": [{"filter": "datum.s == 'g'"}], "mark": {"type": "area", "color": "#c6c6c6"},
                     "encoding": {
                       "x": {"field": "x", "type": "quantitative", "scale": {"domain": [0, 106], "nice": false}, "axis": {"title": null, "labels": false, "values": [0,5,10,15,20,25,30,35,40,45,50,55,60,65,70,75,80,85,90,95,100,105], "tickSize": 2, "tickWidth": 0.8, "domainWidth": 1}},
                       "y": {"field": "y", "type": "quantitative", "scale": {"domain": [0, 100], "nice": false}, "axis": {"title": null, "labels": false, "values": [0,20,40,60,80,100], "tickSize": 2, "tickWidth": 0.8, "domainWidth": 1}}
                     }},
                    {"transform": [{"filter": "datum.s == 'k'"}], "mark": {"type": "line", "color": "#111111", "strokeWidth": 1.1},
                     "encoding": {
                       "x": {"field": "x", "type": "quantitative"},
                       "y": {"field": "y", "type": "quantitative"}
                     }}
                  ]
                }
              },
              {
                "width": 442, "height": 1.5,
                "data": {"name": "cols"},
                "encoding": {"x": {"field": "c", "type": "nominal", "sort": null, "scale": {"type": "band", "domain": ["Class II", "ICAM-1", "CD80", "CD86"], "paddingInner": 0.0536, "paddingOuter": 0},
                  "axis": {"title": null, "orient": "bottom", "labelAlign": "right", "labelBaseline": "middle", "labelOffset": 53, "labelPadding": -0.75, "tickSize": 0, "ticks": false, "domain": false, "labelAngle": 0, "labelFontSize": 14.5, "labelOverlap": false, "labelFlush": false, "zindex": 1}}},
                "layer": [
                  {"transform": [{"filter": {"field": "c", "oneOf": ["Class II", "ICAM-1"]}}], "mark": {"type": "point", "shape": "M-1,-0.04H1V0.04H-1Z", "size": 1444, "filled": true, "color": "#000", "opacity": 1, "xOffset": -34}},
                  {"transform": [{"filter": {"field": "c", "oneOf": ["CD80", "CD86"]}}], "mark": {"type": "point", "shape": "M-1,-0.03H1V0.03H-1Z", "size": 2500, "filled": true, "color": "#000", "opacity": 1, "xOffset": -28}},
                  {"transform": [{"filter": {"field": "c", "oneOf": ["Class II", "ICAM-1"]}}], "mark": {"type": "point", "shape": "M1,0L-1,-0.5L-1,0.5Z", "size": 196, "filled": true, "color": "#000", "opacity": 1, "xOffset": -8}},
                  {"transform": [{"filter": {"field": "c", "oneOf": ["CD80", "CD86"]}}], "mark": {"type": "point", "shape": "M1,0L-1,-0.5L-1,0.5Z", "size": 196, "filled": true, "color": "#000", "opacity": 1, "xOffset": 4}}
                ]
              }
            ]
          }
        ]
      }
    ]
  },
  {
    "bounds": "flush",
    "align": "each",
    "spacing": 43,
    "resolve": {"scale": {"fill": "independent"}},
    "vconcat": [
      {
        "width": 199, "height": 148,
        "data": {"name": "il2"},
        "title": {"text": "B", "anchor": "start", "frame": "group", "fontSize": 21, "fontWeight": "bold", "dx": -82, "dy": 25, "offset": 0, "baseline": "top"},
        "encoding": {
          "x": {"field": "d", "type": "nominal", "sort": null, "scale": {"paddingInner": 0.1, "paddingOuter": 0.05}, "axis": {"title": null, "labelAngle": -35, "labelAlign": "center", "labelBaseline": "top", "tickBand": "extent", "labelOffset": -6, "tickSize": 5, "tickWidth": 1.3, "domainWidth": 1.3, "labelFontSize": 14, "labelPadding": 2, "labelOverlap": false}},
          "xOffset": {"field": "g", "type": "nominal", "scale": {"domain": ["0/μm²", "30/μm²", "60/μm²"], "paddingInner": 0, "paddingOuter": 0}}
        },
        "layer": [
          {"mark": {"type": "bar", "stroke": "#000", "strokeWidth": 1.3},
           "encoding": {
             "y": {"field": "v", "type": "quantitative", "scale": {"domain": [0, 10]}, "axis": {"title": "mIL-2 (ng/ml)", "values": [0, 5, 10], "tickSize": 5, "tickWidth": 1.3, "domainWidth": 1.3, "labelFontSize": 15, "labelPadding": 2, "titleFontSize": 15, "titlePadding": 6}},
             "fill": {"field": "g", "type": "nominal", "scale": {"domain": ["0/μm²", "30/μm²", "60/μm²"], "range": ["#ffffff", "#999999", "#000000"]},
               "legend": {"title": "CD80-GPI", "orient": "none", "legendX": 101, "legendY": -4, "titleFontSize": 15, "titleFontWeight": "normal", "titlePadding": 8, "labelFontSize": 15, "symbolType": "square", "symbolSize": 250, "symbolStrokeColor": "#000", "symbolStrokeWidth": 1.5, "rowPadding": 7, "labelOffset": 8, "labelExpr": "datum.label == '0/μm²' ? '\u2007' + datum.label : datum.label"}}
           }},
          {"transform": [{"filter": "isValid(datum.hi)"}], "mark": {"type": "rule", "color": "#000", "strokeWidth": 1.3}, "encoding": {"y": {"field": "v", "type": "quantitative"}, "y2": {"field": "hi"}}},
          {"transform": [{"filter": "isValid(datum.hi)"}], "mark": {"type": "tick", "color": "#000", "thickness": 1.3, "size": 8}, "encoding": {"y": {"field": "hi", "type": "quantitative"}}}
        ]
      },
      {
        "width": 199, "height": 145,
        "data": {"name": "thy"},
        "title": {"text": "C", "anchor": "start", "frame": "group", "fontSize": 21, "fontWeight": "bold", "dx": -82, "dy": 13, "offset": 0, "baseline": "top"},
        "encoding": {
          "x": {"field": "d", "type": "nominal", "sort": null, "scale": {"paddingInner": 0.1, "paddingOuter": 0.05}, "axis": {"title": null, "labelAngle": -35, "labelAlign": "center", "labelBaseline": "top", "tickBand": "extent", "labelOffset": -6, "tickSize": 5, "tickWidth": 1.3, "domainWidth": 1.3, "labelFontSize": 14, "labelPadding": 2, "labelOverlap": false}},
          "xOffset": {"field": "g", "type": "nominal", "scale": {"domain": ["0/μm²", "30/μm²", "60/μm²"], "paddingInner": 0, "paddingOuter": 0}}
        },
        "layer": [
          {"mark": {"type": "bar", "stroke": "#000", "strokeWidth": 1.3},
           "encoding": {
             "y": {"field": "v", "type": "quantitative", "scale": {"domain": [0, 30]}, "axis": {"title": ["H³-thymidine incorporation", "(x10⁴ cpm)"], "values": [0, 10, 20, 30], "tickSize": 5, "tickWidth": 1.3, "domainWidth": 1.3, "labelFontSize": 15, "labelPadding": 2, "titleFontSize": 14, "titleLineHeight": 15, "titlePadding": 0}},
             "fill": {"field": "g", "type": "nominal", "scale": {"domain": ["0/μm²", "30/μm²", "60/μm²"], "range": ["#ffffff", "#999999", "#000000"]}, "legend": null}
           }},
          {"transform": [{"filter": "isValid(datum.hi)"}], "mark": {"type": "rule", "color": "#000", "strokeWidth": 1.3}, "encoding": {"y": {"field": "v", "type": "quantitative"}, "y2": {"field": "hi"}}},
          {"transform": [{"filter": "isValid(datum.hi)"}], "mark": {"type": "tick", "color": "#000", "thickness": 1.3, "size": 8}, "encoding": {"y": {"field": "hi", "type": "quantitative"}}}
        ]
      },
      {
        "width": 199, "height": 160,
        "data": {"name": "cd69"},
        "title": {"text": "D", "anchor": "start", "frame": "group", "fontSize": 21, "fontWeight": "bold", "dx": -82, "dy": 23, "offset": 0, "baseline": "top"},
        "encoding": {
          "x": {"field": "d", "type": "nominal", "sort": null, "scale": {"paddingInner": 0.1, "paddingOuter": 0.05}, "axis": {"title": "MCC (μM)", "titleFontSize": 15, "titlePadding": 1, "labelAngle": -35, "labelAlign": "center", "labelBaseline": "top", "tickBand": "extent", "labelOffset": -6, "tickSize": 5, "tickWidth": 1.3, "domainWidth": 1.3, "labelFontSize": 14, "labelPadding": 2, "labelOverlap": false}},
          "xOffset": {"field": "g", "type": "nominal", "scale": {"domain": ["0/μm²", "30/μm²", "60/μm²"], "paddingInner": 0, "paddingOuter": 0}}
        },
        "layer": [
          {"mark": {"type": "bar", "stroke": "#000", "strokeWidth": 1.3},
           "encoding": {
             "y": {"field": "v", "type": "quantitative", "scale": {"type": "log", "domain": [1, 10000]}, "axis": {"title": "CD69 MFI", "values": [1,2,3,4,5,6,7,8,9,10,20,30,40,50,60,70,80,90,100,200,300,400,500,600,700,800,900,1000,2000,3000,4000,5000,6000,7000,8000,9000,10000], "labelExpr": "datum.value == 1 ? '10⁰' : datum.value == 10 ? '10¹' : datum.value == 100 ? '10²' : datum.value == 1000 ? '10³' : datum.value == 10000 ? '10⁴' : ''", "tickSize": {"condition": {"test": "indexof([1,10,100,1000,10000], datum.value) >= 0", "value": 6}, "value": 3}, "tickWidth": 1.1, "domainWidth": 1.3, "labelFontSize": 15, "labelPadding": 2, "labelOverlap": false, "titleFontSize": 15, "titlePadding": 6}},
             "y2": {"datum": 1},
             "fill": {"field": "g", "type": "nominal", "scale": {"domain": ["0/μm²", "30/μm²", "60/μm²"], "range": ["#ffffff", "#999999", "#000000"]}, "legend": null}
           }}
        ]
      }
    ]
  }
]
}
